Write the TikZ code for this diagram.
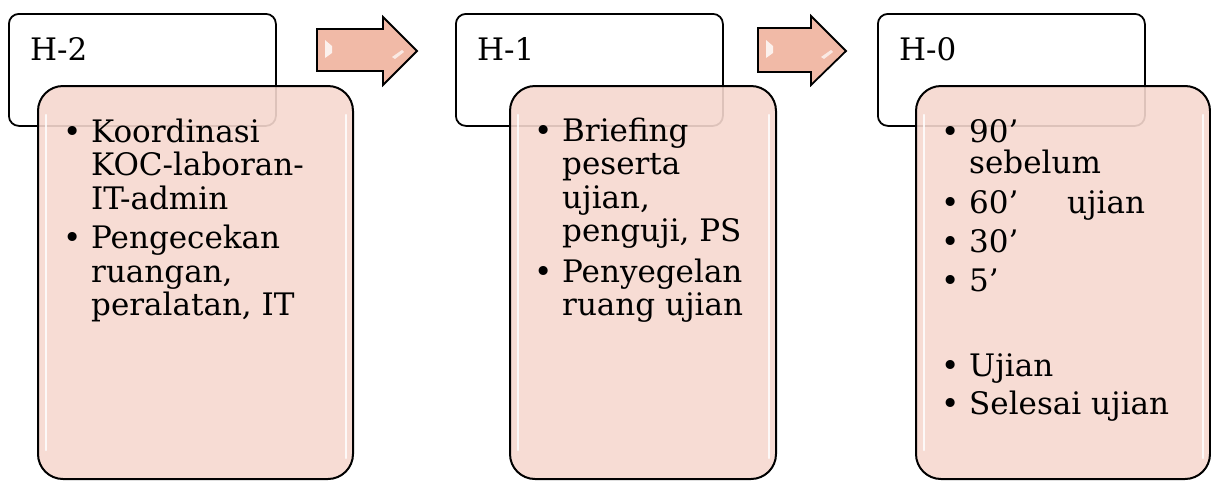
\documentclass[tikz,border=0pt]{standalone}
\usepackage{fontspec}
\setmainfont{DejaVu Serif}
\definecolor{merahmuda}{RGB}{246,216,207}
\definecolor{salem}{RGB}{241,186,167}
\tikzstyle{judul} = [rectangle, rounded corners=10pt, minimum width=267pt, minimum height=112pt, anchor=north west, draw=black, line width=1.8pt, fill=white]
\tikzstyle{isi} = [rectangle, rounded corners=25pt, minimum height=393pt, anchor=north west, draw=black, line width=2pt, fill=merahmuda, fill opacity=0.9]
\tikzstyle{kilap} = [white, line width=2.5pt, line cap=round, opacity=0.85]
\tikzstyle{panah} = [draw=black, line width=1.8pt, fill=salem]
\tikzstyle{teks} = [anchor=base west, inner sep=0pt, font=\fontsize{31}{33.5}\selectfont]
\newcommand{\butir}{\makebox[10pt]{\textbullet}}

\begin{document}
\begin{tikzpicture}[x=1pt, y=-1pt]
  \useasboundingbox (0,0) rectangle (1211,480);

  % H-2
  \node (judul1) [judul] at (8,13) {};
  \node (isi1) [isi, minimum width=315pt] at (37,85) {};
  \draw[kilap] ([shift={(9,30)}]isi1.north west) -- ([shift={(9,-30)}]isi1.south west);
  \draw[kilap] ([shift={(-8,30)}]isi1.north east) -- ([shift={(-8,-22)}]isi1.south east);
  \node (h2) [teks] at (30,60) {H-2};
  \node (daftar1) [teks] at (67,142) {\begin{tabular}[t]{@{}l@{\hspace{14pt}}l@{}}
    \butir & Koordinasi\\
           & KOC-laboran-\\
           & IT-admin\\[6pt]
    \butir & Pengecekan\\
           & ruangan,\\
           & peralatan, IT
  \end{tabular}};

  % H-1
  \node (judul2) [judul] at (455,13) {};
  \node (isi2) [isi, minimum width=266pt] at (509,85) {};
  \draw[kilap] ([shift={(9,30)}]isi2.north west) -- ([shift={(9,-30)}]isi2.south west);
  \draw[kilap] ([shift={(-8,30)}]isi2.north east) -- ([shift={(-8,-22)}]isi2.south east);
  \node (h1) [teks] at (477,60) {H-1};
  \node (daftar2) [teks] at (538,141) {\begin{tabular}[t]{@{}l@{\hspace{14pt}}l@{}}
    \butir & Briefing\\
           & peserta\\
           & ujian,\\
           & penguji, PS\\[7pt]
    \butir & Penyegelan\\
           & ruang ujian
  \end{tabular}};

  % H-0
  \node (judul3) [judul] at (877,13) {};
  \node (isi3) [isi, minimum width=294pt] at (915,85) {};
  \draw[kilap] ([shift={(9,30)}]isi3.north west) -- ([shift={(9,-30)}]isi3.south west);
  \draw[kilap] ([shift={(-8,30)}]isi3.north east) -- ([shift={(-8,-22)}]isi3.south east);
  \node (h0) [teks] at (899,60) {H-0};
  \node (daftar3) [teks] at (945,142) {\begin{tabular}[t]{@{}l@{\hspace{14pt}}l@{}}
    \butir & 90’\\[-2pt]
           & sebelum\\[6pt]
    \butir & \makebox[98pt][l]{60’}ujian\\[6pt]
    \butir & 30’\\[5pt]
    \butir & 5’\\[6pt]
           & \\[12pt]
    \butir & Ujian\\[5pt]
    \butir & Selesai ujian
  \end{tabular}};

  % panah antar tahap
  \draw[panah] (317,29) -- (383,29) -- (383,17) -- (417,51) -- (383,85) -- (383,71) -- (317,71) -- cycle;
  \fill[white, opacity=0.8] (325,40) -- (332,46) -- (332,53) -- (325,58) -- cycle;
  \fill[white, opacity=0.7] (392,57) -- (402,50) -- (404,52) -- (395,59) -- cycle;
  \draw[panah] (758,28) -- (811,28) -- (811,16) -- (846,51) -- (811,85) -- (811,72) -- (758,72) -- cycle;
  \fill[white, opacity=0.8] (766,40) -- (773,46) -- (773,53) -- (766,58) -- cycle;
  \fill[white, opacity=0.7] (821,57) -- (831,50) -- (833,52) -- (824,59) -- cycle;
\end{tikzpicture}
\end{document}
